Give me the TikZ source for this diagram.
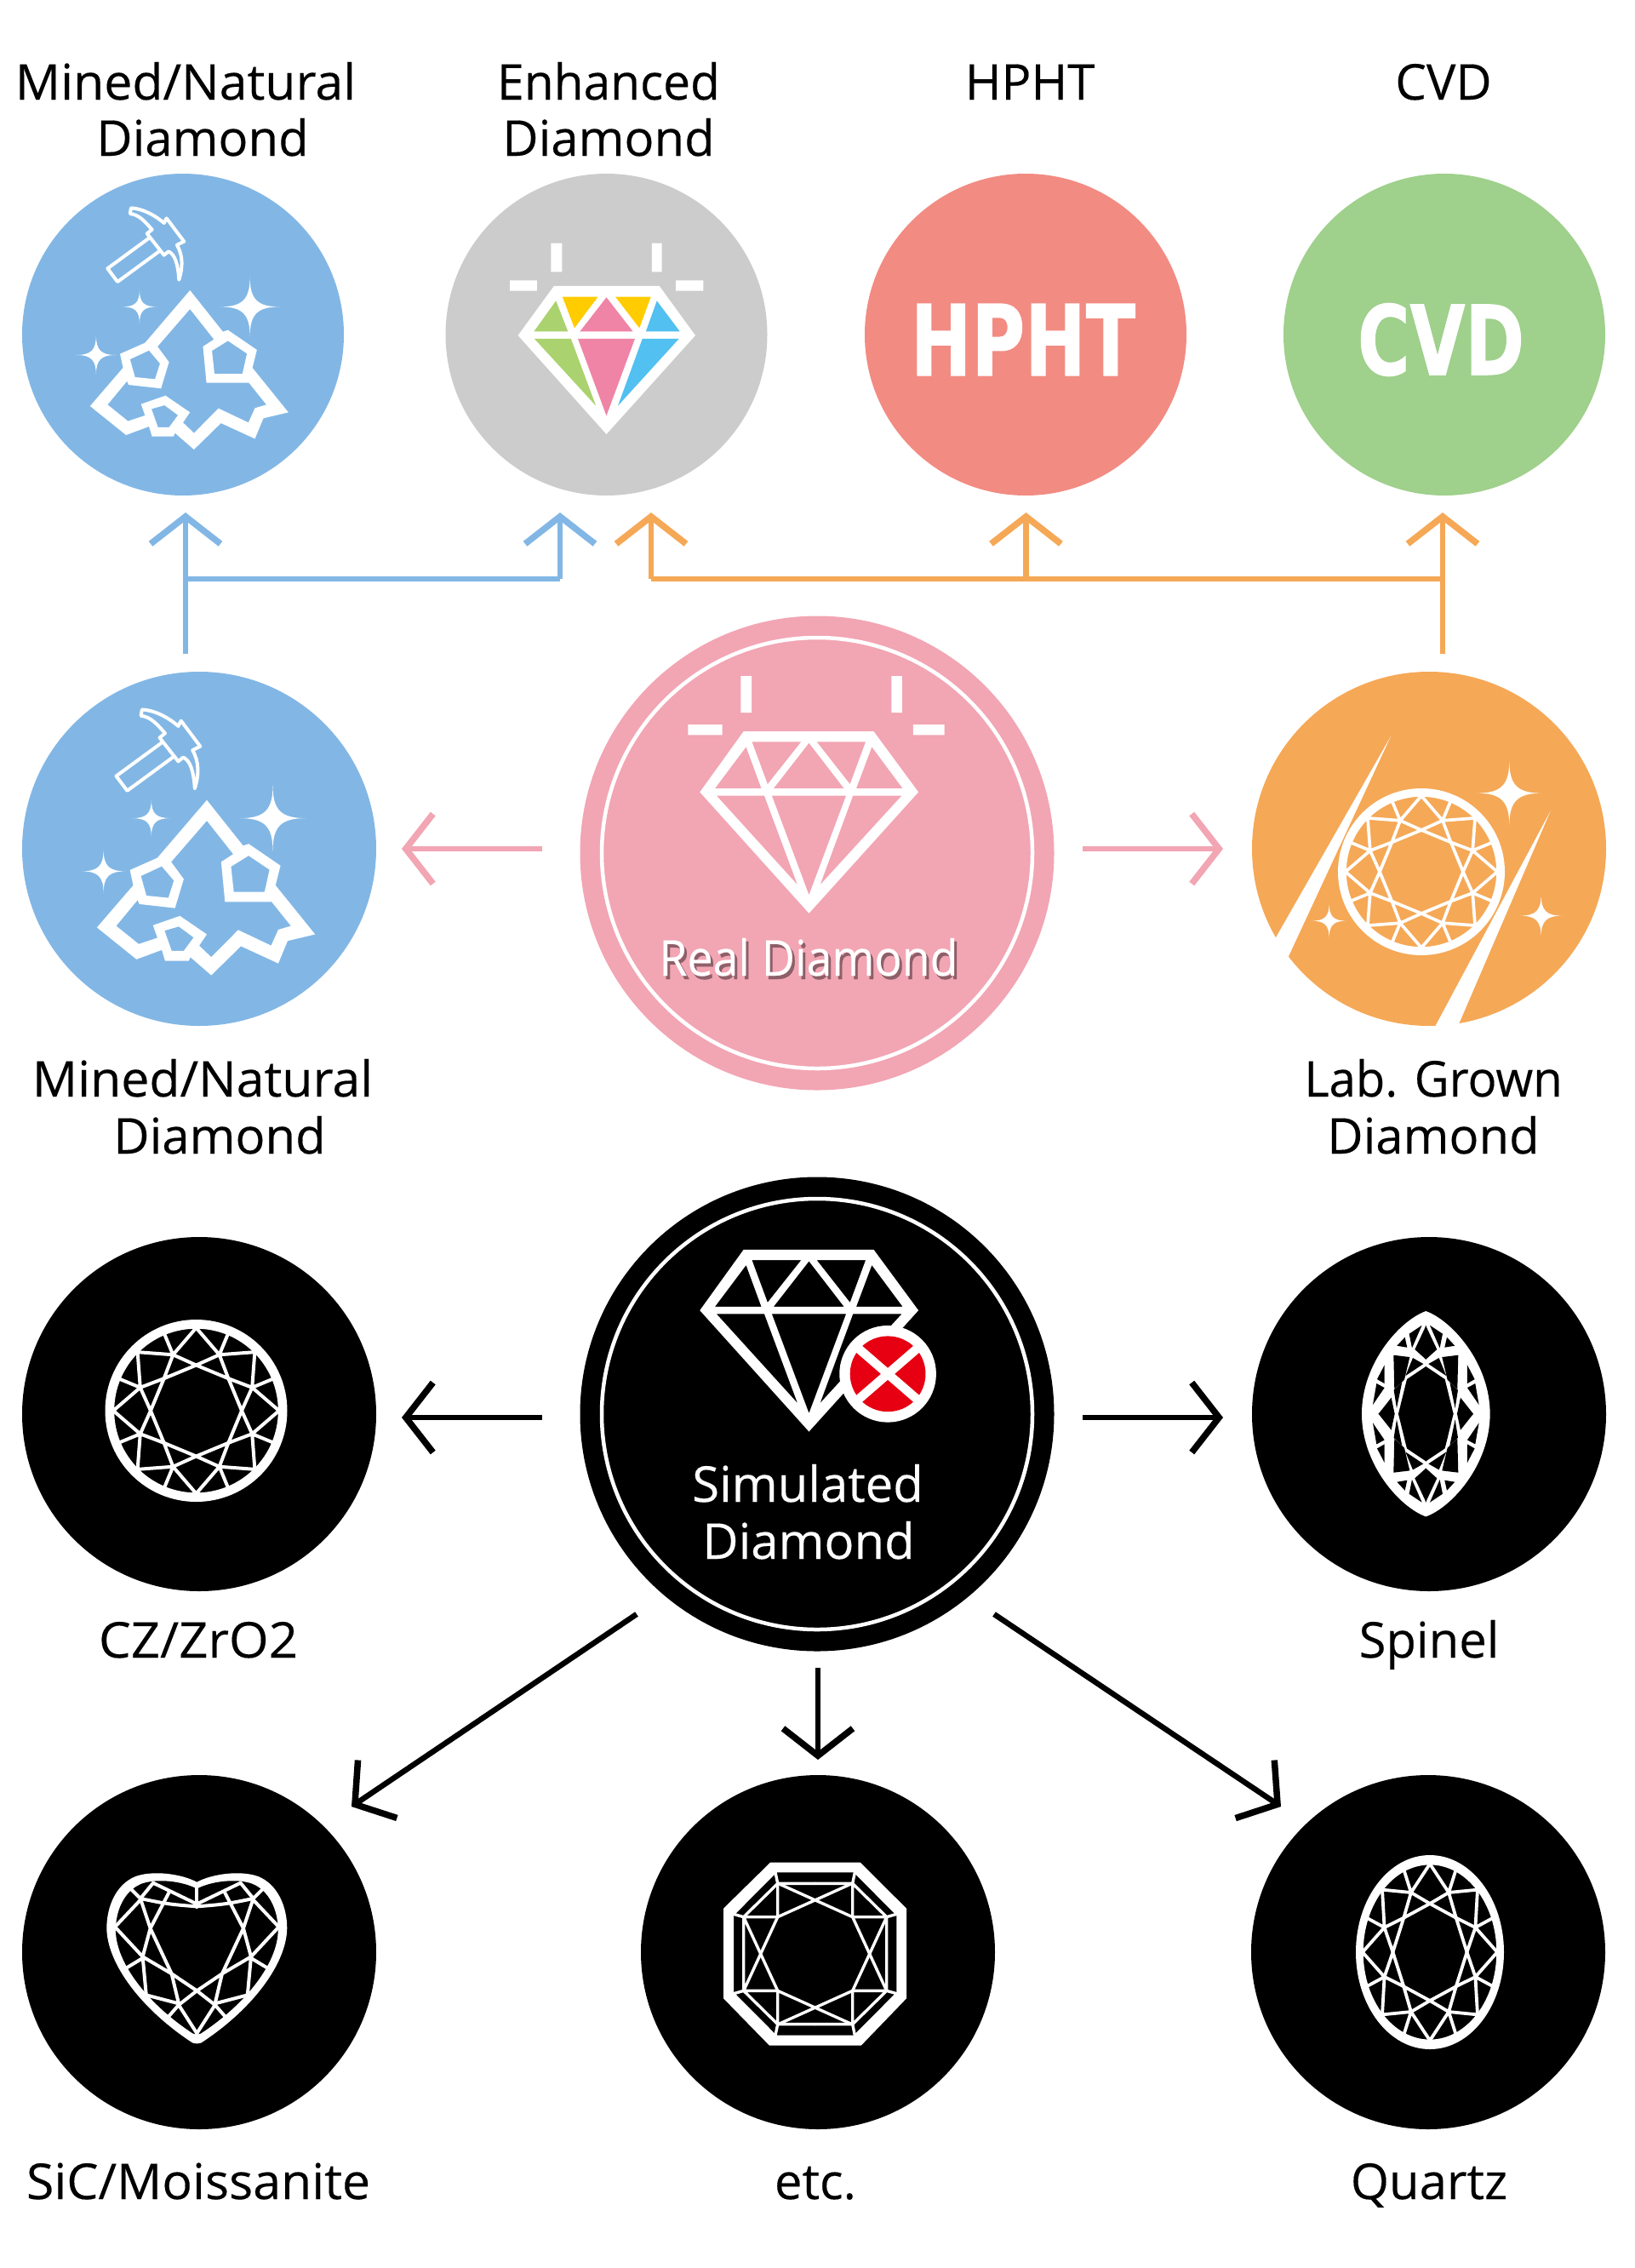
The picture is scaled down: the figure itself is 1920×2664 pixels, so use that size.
\documentclass[tikz,border=0pt]{standalone}
\usepackage{fontspec}
\usepackage{graphicx}
\usetikzlibrary{arrows.meta}
\setmainfont{Open Sans}[FakeBold=0.25]
\newfontfamily\blockfont{DejaVu Sans}[BoldFeatures={FakeBold=1}]
\definecolor{cblue}{HTML}{82B7E5}
\definecolor{cgray}{HTML}{CCCCCC}
\definecolor{csalmon}{HTML}{F28B82}
\definecolor{cgreen}{HTML}{9FD08C}
\definecolor{corange}{HTML}{F5A856}
\definecolor{cpink}{HTML}{F2A5B3}
\definecolor{cred}{HTML}{E60012}
\definecolor{fgreen}{HTML}{AAD26E}
\definecolor{fyellow}{HTML}{FFCC00}
\definecolor{fpink}{HTML}{EF84A6}
\definecolor{fblue}{HTML}{52C0F0}
\tikzset{
  disc/.style={circle,inner sep=0pt,outer sep=0pt,fill=#1},
  lbl/.style={anchor=base,inner sep=0pt,outer sep=0pt,font=\fontsize{58}{66}\selectfont,align=center},
  wlbl/.style={lbl,text=white},
  conn/.style={draw=#1,line width=6.5pt,-{Straight Barb[length=32pt,width=82pt,line width=7.5pt]}},
  link/.style={draw=#1,line width=6.5pt},
  facet/.style={white,line width=#1,line join=round,line cap=round},
}
\newcommand{\hs}[2]{\scalebox{#1}[1]{#2}}
% four-point sparkle in the current scope
\newcommand{\sparkle}[4]{%
  \fill[white] (#1,#2-#4) .. controls (#1,#2-0.25*#4) and (#1+0.25*#3,#2) .. (#1+#3,#2)
   .. controls (#1+0.25*#3,#2) and (#1,#2+0.25*#4) .. (#1,#2+#4)
   .. controls (#1,#2+0.25*#4) and (#1-0.25*#3,#2) .. (#1-#3,#2)
   .. controls (#1-0.25*#3,#2) and (#1,#2-0.25*#4) .. (#1,#2-#4) -- cycle;}
% rock and hammer
\newcommand{\mineicon}[4]{%
\begin{scope}[shift={(#1,#2)},x=#3pt,y=-#4pt,shift={(-366,-638)}]
  \fill[white,even odd rule]
   (380,482)--(446,628)--(456,622)--(514,692)--(505,755)--(577,912)--(527,933)--(510,1005)--(442,950)--(388,1043)--(350,985)--(347,997)--(304,997)--(298,962)--(252,992)--(180,890)--(246,755)--(240,706)--(290,667)--cycle
   (380,548)--(428,655)--(406,680)--(413,808)--(498,808)--(533,885)--(510,897)--(497,948)--(437,898)--(388,985)--(366,948)--(380,912)--(331,853)--(282,883)--(290,923)--(256,943)--(215,885)--(254,802)--(257,815)--(322,828)--(338,735)--(315,680)--cycle
   (298,694)--(320,740)--(310,795)--(270,788)--(260,725)--cycle
   (456,660)--(494,705)--(485,776)--(429,776)--(424,695)--cycle
   (329,887)--(356,922)--(338,965)--(316,965)--(303,900)--cycle;
  \sparkle{279}{540}{35}{60}
  \sparkle{500}{540}{60}{105}
  \sparkle{192}{710}{40}{70}
  \draw[facet=4pt]
   (262,192) .. controls (290,195) and (315,225) .. (328,245) -- (333,228) -- (368,310) -- (354,322)
   .. controls (366,360) and (366,400) .. (358,445) .. controls (356,390) and (350,355) .. (337,345)
   -- (328,358) -- (294,282) -- (304,268) .. controls (290,240) and (278,215) .. (260,212) -- cycle;
  \draw[facet=4pt] (298,298) -- (215,405) -- (235,452) -- (318,345);
\end{scope}}
% outlined gem with sparks (zoom coordinates)
\newcommand{\gemoutline}{%
  \fill[white,even odd rule]
   (558,416)--(958,416)--(1095,602)--(759,974)--(424,602)--cycle
   (566,463)--(613,591)--(470,591)--cycle
   (584,448)--(735,448)--(632,578)--cycle
   (759,451)--(867,591)--(650,591)--cycle
   (783,448)--(933,448)--(885,578)--cycle
   (952,463)--(1047,591)--(904,591)--cycle
   (475,613)--(622,613)--(724,887)--cycle
   (645,613)--(873,613)--(759,918)--cycle
   (894,613)--(1044,613)--(793,887)--cycle;}
% round brilliant
\newcommand{\brilliant}[5]{%
\begin{scope}[shift={(#1,#2)},x=#3pt,y=#4pt]
  \fill[white,even odd rule] (0,0) ellipse[x radius=1,y radius=1] (0,0) ellipse[x radius=.9,y radius=.9];
  \foreach \a in {0,45,...,315}{
    \pgfmathsetmacro{\b}{\a+22.5}
    \pgfmathsetmacro{\c}{\a+45}
    \draw[facet=#5pt] (\a:.5)--(\b:.665)--(\c:.5)--cycle (\b:.665)--(\a:.91) (\b:.665)--(\c:.91) (\b:.665)--(\b:.91);
  }
\end{scope}}
\newcommand{\heartpath}{(0,-238) .. controls (56,-268) and (156,-280) .. (216,-258) .. controls (286,-230) and (318,-150) .. (318,-75) .. controls (316,50) and (196,210) .. (16,328) .. controls (8,332) and (-8,332) .. (-16,328) .. controls (-196,210) and (-316,50) .. (-318,-75) .. controls (-318,-150) and (-286,-230) .. (-216,-258) .. controls (-156,-280) and (-56,-268) .. (0,-238) -- cycle}
\begin{document}
\begin{tikzpicture}[x=1pt,y=-1pt]
\useasboundingbox (0,0) rectangle (1920,2664);
% ---- top row
\node[disc=cblue,minimum size=378pt] (tminedc) at (215,393) {};
\node[disc=cgray,minimum size=378pt] (tenh) at (712.5,393) {};
\node[disc=csalmon,minimum size=378pt] (thpht) at (1205,393) {};
\node[disc=cgreen,minimum size=378pt] (tcvd) at (1697,393) {};
\node[lbl] (l1a) at (218,117) {\hs{1.017}{Mined/Natural}};
\node[lbl] (l1b) at (238,183) {Diamond};
\node[lbl] (l2a) at (715,117) {\hs{.98}{Enhanced}};
\node[lbl] (l2b) at (715,183) {Diamond};
\node[lbl] (l3) at (1210,117) {HPHT};
\node[lbl] (l4) at (1696,117) {CVD};
\mineicon{215}{393}{.5869}{.3333}
% coloured gem
\begin{scope}[shift={(0,180)},x=.5869pt,y=-.3333pt]
  \fill[white] (1109,468)--(1320,468)--(1392,642)--(1214,990)--(1037,642)--cycle;
  \fill[fgreen] (1113,520)--(1137,628)--(1069,628)--cycle (1070,654)--(1143,654)--(1193,890)--cycle;
  \fill[fyellow] (1126,506)--(1197,506)--(1150,616)--cycle (1232,506)--(1303,506)--(1280,616)--cycle;
  \fill[fpink] (1214,508)--(1267,628)--(1161,628)--cycle (1157,654)--(1271,654)--(1214,925)--cycle;
  \fill[fblue] (1315,520)--(1361,628)--(1293,628)--cycle (1286,654)--(1359,654)--(1237,890)--cycle;
  \fill[white] (1103,317) rectangle (1125,418) (1305,317) rectangle (1325,418) (1021,448) rectangle (1075,485) (1353,448) rectangle (1408,485);
\end{scope}
\node[inner sep=0pt,text=white] (thtxt) at (1202,399) {\resizebox{264pt}{84pt}{\blockfont\bfseries HPHT}};
\node[inner sep=0pt,text=white] (tctxt) at (1693,399) {\resizebox{196pt}{84pt}{\blockfont\bfseries CVD}};
% ---- middle row
\node[disc=cblue,minimum size=416pt] (mmined) at (234,997) {};
\node[disc=cpink,minimum size=557pt] (mreal) at (960,1002) {};
\draw[white,line width=4.5pt] (960,1002) circle[radius=253];
\node[disc=corange,minimum size=416pt] (mlab) at (1679,997) {};
\mineicon{234}{997}{.6456}{.3667}
\begin{scope}[shift={(660,700)},x=.3827pt,y=-.3827pt]
  \gemoutline
  \fill[white] (550,246) rectangle (583,358) (1012,246) rectangle (1045,358) (388,395) rectangle (493,427) (1079,395) rectangle (1175,427);
\end{scope}
\node[lbl,text=black!55!cpink,opacity=.75] (realshadow) at (953,1150) {\hs{.925}{Real Diamond}};
\node[wlbl] (lreal) at (950,1146) {\hs{.925}{Real Diamond}};
\begin{scope}[shift={(1450,770)},x=.3333pt,y=-.3333pt]
  \fill[white] (552,285)--(108,1062)--(157,1135)--cycle;
  \fill[white] (1115,548)--(692,1338)--(779,1329)--cycle;
  \sparkle{970}{485}{115}{115}
  \sparkle{1082}{917}{75}{75}
  \sparkle{335}{935}{62}{62}
\end{scope}
\brilliant{1670}{1024}{98}{98}{3.7}
\node[lbl] (l5a) at (238,1288) {\hs{1.017}{Mined/Natural}};
\node[lbl] (l5b) at (258,1355) {Diamond};
\node[lbl] (l6a) at (1684,1288) {\hs{.97}{Lab. Grown}};
\node[lbl] (l6b) at (1684,1355) {Diamond};
% ---- simulated row
\node[disc=black,minimum size=557pt] (msim) at (960,1661) {};
\draw[white,line width=4.5pt] (960,1661) circle[radius=253];
\node[disc=black,minimum size=416pt] (mcz) at (234,1661) {};
\node[disc=black,minimum size=416pt] (mspinel) at (1679,1661) {};
\begin{scope}[shift={(660,1370)},x=.3827pt,y=-.3827pt]
  \begin{scope}[shift={(0,-160)}]\gemoutline\end{scope}
  \fill[white] (1001,637) circle[radius=148.5];
  \fill[cred] (1001,637) circle[radius=116];
  \draw[white,line width=10.5pt] (897,547)--(1105,727) (1105,547)--(897,727);
\end{scope}
\node[wlbl] (lsim1) at (949,1764) {Simulated};
\node[wlbl] (lsim2) at (950,1831) {Diamond};
\brilliant{230.5}{1657}{107}{107}{4}
% marquise
\begin{scope}[shift={(1675.3,1660.7)},x=.3333pt,y=-.3333pt]
  \fill[white,line join=round] (0,-362) .. controls (90,-330) and (226,-180) .. (226,0) .. controls (226,180) and (90,330) .. (0,362) .. controls (-90,330) and (-226,180) .. (-226,0) .. controls (-226,-180) and (-90,-330) .. (0,-362) -- cycle;
  \foreach \sx/\sy in {1/1,-1/1,1/-1,-1/-1}{
    \begin{scope}[xscale=\sx,yscale=\sy]
      \fill[black] (-1,1)--(-1,-167)--(0,-167)--(67,-122)--(97,0)--(97,1)--cycle;
      \fill[black] (-1,-312)--(0,-310)--(39,-227)--(0,-192)--(-1,-192)--cycle;
      \fill[black] (14,-312)--(59,-282)--(49,-232)--cycle;
      \fill[black] (74,-270)--(102,-240)--(66,-234)--cycle;
      \fill[black] (9,-176)--(46,-197)--(72,-134)--cycle;
      \fill[black] (57,-200)--(114,-207)--(111,-87)--(76,-120)--cycle;
      \fill[black] (84,-112)--(113,-84)--(103,-20)--cycle;
      \fill[black] (122,-57)--(167,0)--(167,1)--(110,1)--(110,0)--cycle;
      \fill[black] (146,-172)--(172,-122)--(146,-107)--cycle;
      \fill[black] (146,-92)--(174,-107)--(187,-32)--cycle;
    \end{scope}}
\end{scope}
\node[lbl] (lcz) at (233,1947) {\hs{1.035}{CZ/ZrO2}};
\node[lbl] (lspinel) at (1679,1947) {Spinel};
% ---- bottom row
\node[disc=black,minimum size=416pt] (bheart) at (234,2293) {};
\node[disc=black,minimum size=416pt] (betc) at (961,2293) {};
\node[disc=black,minimum size=416pt] (bquartz) at (1678,2293) {};
% heart
\begin{scope}[shift={(231.3,2290)},x=.3333pt,y=-.3333pt]
  \fill[white] \heartpath;
  \begin{scope}[scale=.9]\fill[black] \heartpath;\end{scope}
  \draw[facet=4pt] (0,-230)--(0,-150);
  \foreach \sx in {1,-1}{
    \begin{scope}[xscale=\sx]
      \draw[facet=4pt] (0,-152) .. controls (-100,-160) .. (-199,-180);
      \draw[facet=4pt] (-154,-235)--(-9,-165) (-154,-235)--(-199,-180) (-234,-215)--(-199,-180)
        (-199,-180)--(-164,-75) (-99,-200)--(-164,-75) (-164,-75)--(-191,25) (-164,-75)--(-89,85)
        (-284,-85)--(-199,-175) (-284,-75)--(-191,25) (-249,65)--(-191,30) (-191,25)--(-89,85)
        (-89,85)--(0,145) (-191,25)--(-179,155) (-179,160)--(-64,190) (-89,85)--(-64,190)
        (0,145)--(-64,195) (-64,195)--(-99,235) (-64,195)--(0,295);
    \end{scope}}
\end{scope}
% octagon
\begin{scope}[shift={(957.7,2295)},x=.3333pt,y=-.3333pt]
  \fill[white,even odd rule]
   (-158,-322)--(159,-322)--(322,-160)--(322,157)--(162,323)--(-161,323)--(-323,157)--(-323,-160)--cycle
   (136,-287)--(287,-135)--(287,135)--(136,287)--(-136,287)--(-287,135)--(-287,-135)--(-136,-287)--cycle;
  \foreach \sx/\sy in {1/1,-1/1,1/-1,-1/-1}{
    \begin{scope}[xscale=\sx,yscale=\sy]
      \draw[facet=3.4pt] (0,-248)--(132,-248)--(132,-130)--(252,-130)--(132,-248)
        (-130,-248)--(132,-130) (252,-130)--(132,130) (252,-130)--(252,0)
        (132,-248)--(140,-287) (252,-130)--(287,-140);
    \end{scope}}
\end{scope}
\brilliant{1680}{2293}{87}{114}{3.8}
\node[lbl] (lsic) at (233,2583) {\hs{1.017}{SiC/Moissanite}};
\node[lbl] (letc) at (958,2583) {etc.};
\node[lbl] (lquartz) at (1679,2583) {Quartz};
% ---- connectors
\coordinate (bs) at (218,768);
\coordinate (bj) at (218,680);
\coordinate (bt1) at (218,602);
\coordinate (bk) at (658,680);
\coordinate (bt2) at (658,602);
\coordinate (os) at (1695,768);
\coordinate (oj) at (1695,680);
\coordinate (ot4) at (1695,602);
\coordinate (om) at (1205.5,680);
\coordinate (ot3) at (1205.5,602);
\coordinate (ok) at (765,680);
\coordinate (ot2) at (765,602);
\draw[conn=cblue] (bs) -- (bt1);
\draw[conn=cblue] (bk) -- (bt2);
\draw[link=cblue] (bj) -- (bk);
\draw[conn=corange] (os) -- (ot4);
\draw[conn=corange] (om) -- (ot3);
\draw[conn=corange] (ok) -- (ot2);
\draw[link=corange] (oj) -- (ok);
\coordinate (ps1) at (637,997);
\coordinate (pt1) at (472,997);
\coordinate (ps2) at (1272,997);
\coordinate (pt2) at (1437,997);
\draw[conn=cpink] (ps1) -- (pt1);
\draw[conn=cpink] (ps2) -- (pt2);
\coordinate (ks1) at (637,1665);
\coordinate (kt1) at (472,1665);
\coordinate (ks2) at (1272,1665);
\coordinate (kt2) at (1437,1665);
\coordinate (ks3) at (748,1896);
\coordinate (kt3) at (413,2122);
\coordinate (ks4) at (1168,1896);
\coordinate (kt4) at (1505,2122);
\coordinate (ks5) at (961,1959);
\coordinate (kt5) at (961,2067);
\draw[conn=black] (ks1) -- (kt1);
\draw[conn=black] (ks2) -- (kt2);
\draw[conn=black] (ks3) -- (kt3);
\draw[conn=black] (ks4) -- (kt4);
\draw[conn=black] (ks5) -- (kt5);
\end{tikzpicture}
\end{document}
